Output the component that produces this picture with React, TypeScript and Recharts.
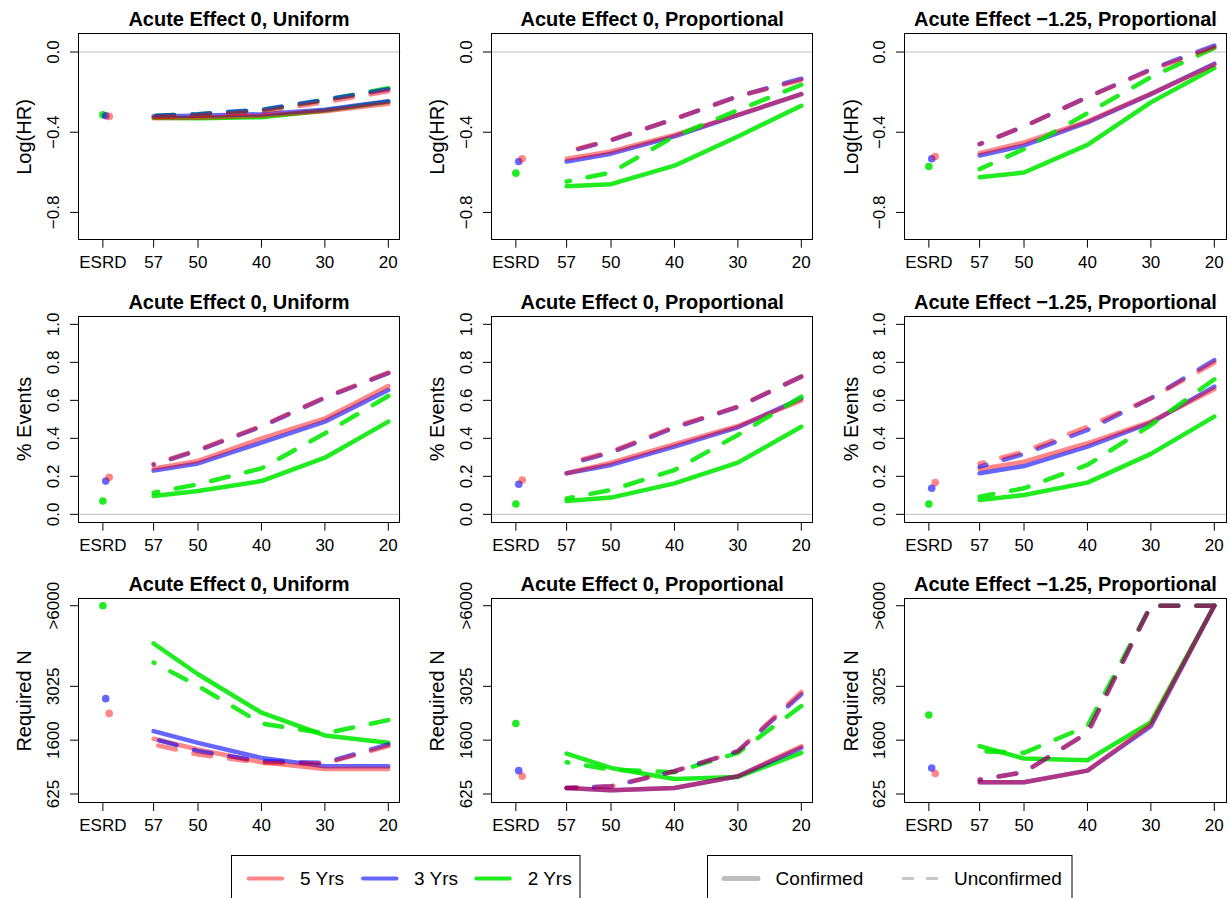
import React from 'react';
import { ComposedChart, Line, Scatter, XAxis, YAxis, ReferenceLine } from 'recharts';

const FONT = '"Liberation Sans", Arial, Helvetica, sans-serif';

// x axis: ages, ESRD sits left of 57 on a reversed age axis
const ages = [57, 50, 40, 30, 20];
const esrdAge = 65;
const xTicks = [65, 57, 50, 40, 30, 20];
const esrdJitter = [64.0, 64.55, 65.0]; // 5 Yrs, 3 Yrs, 2 Yrs dots

const groupNames = ['5 Yrs', '3 Yrs', '2 Yrs'];
const statusNames = ['Confirmed', 'Unconfirmed'];
const panelTitles = ['Acute Effect 0, Uniform', 'Acute Effect 0, Proportional', 'Acute Effect \u22121.25, Proportional'];
const rowLabels = ['Log(HR)', '% Events', 'Required N'];

const hrTicks = [-0.8, -0.4, 0];
const evTicks = [0, 0.2, 0.4, 0.6, 0.8, 1];
const nTicks = [625, 1600, 3025, 6000];

// rows of each array: 5 Yrs, 3 Yrs, 2 Yrs ; columns follow `ages`
// Log(HR)
const hrUniSolid = [
  [-0.33, -0.328, -0.318, -0.295, -0.258],
  [-0.32, -0.318, -0.31, -0.288, -0.245],
  [-0.328, -0.33, -0.325, -0.292, -0.248],
];
const hrUniDashed = [
  [-0.325, -0.318, -0.298, -0.25, -0.196],
  [-0.318, -0.31, -0.288, -0.238, -0.186],
  [-0.318, -0.31, -0.29, -0.24, -0.18],
];
const hrUniEsrd = [-0.321, -0.318, -0.313];

const hrPropSolid = [
  [-0.532, -0.496, -0.413, -0.313, -0.21],
  [-0.546, -0.507, -0.421, -0.315, -0.21],
  [-0.67, -0.659, -0.567, -0.421, -0.268],
];
const hrPropDashed = [
  [-0.496, -0.438, -0.334, -0.221, -0.14],
  [-0.5, -0.44, -0.334, -0.221, -0.133],
  [-0.646, -0.601, -0.421, -0.29, -0.163],
];
const hrPropEsrd = [-0.532, -0.546, -0.604];

const hrAcuteSolid = [
  [-0.504, -0.451, -0.346, -0.208, -0.063],
  [-0.516, -0.466, -0.351, -0.21, -0.058],
  [-0.624, -0.601, -0.463, -0.251, -0.08],
];
const hrAcuteDashed = [
  [-0.458, -0.371, -0.225, -0.09, 0.025],
  [-0.46, -0.371, -0.225, -0.086, 0.032],
  [-0.584, -0.484, -0.305, -0.125, 0.02],
];
const hrAcuteEsrd = [-0.521, -0.532, -0.571];

// % Events
const evUniSolid = [
  [0.242, 0.281, 0.4, 0.505, 0.675],
  [0.23, 0.268, 0.377, 0.488, 0.654],
  [0.096, 0.123, 0.175, 0.298, 0.488],
];
const evUniDashed = [
  [0.265, 0.339, 0.465, 0.616, 0.746],
  [0.262, 0.336, 0.462, 0.613, 0.743],
  [0.114, 0.158, 0.242, 0.426, 0.623],
];
const evUniEsrd = [0.195, 0.175, 0.07];

const evPropSolid = [
  [0.216, 0.272, 0.37, 0.465, 0.598],
  [0.216, 0.26, 0.356, 0.458, 0.61],
  [0.07, 0.088, 0.163, 0.272, 0.461],
];
const evPropDashed = [
  [0.268, 0.33, 0.461, 0.567, 0.725],
  [0.262, 0.325, 0.456, 0.565, 0.725],
  [0.084, 0.128, 0.233, 0.418, 0.619],
];
const evPropEsrd = [0.181, 0.158, 0.054];

const evAcuteSolid = [
  [0.239, 0.277, 0.374, 0.488, 0.658],
  [0.216, 0.254, 0.356, 0.482, 0.672],
  [0.075, 0.102, 0.167, 0.318, 0.514],
];
const evAcuteDashed = [
  [0.268, 0.33, 0.461, 0.611, 0.798],
  [0.251, 0.318, 0.444, 0.611, 0.812],
  [0.093, 0.137, 0.26, 0.47, 0.711],
];
const evAcuteEsrd = [0.167, 0.137, 0.054];

// Required N (values above 6000 shown as >6000)
const nUniSolid = [
  [1631, 1399, 1146, 1023, 1023],
  [1808, 1541, 1230, 1072, 1072],
  [4481, 3406, 2270, 1706, 1541],
];
const nUniDashed = [
  [1505, 1296, 1134, 1121, 1469],
  [1631, 1364, 1165, 1134, 1505],
  [3798, 3036, 1995, 1753, 2079],
];
const nUniEsrd = [2252, 2659, 6000];

const nPropSolid = [
  [712, 677, 712, 896, 1469],
  [712, 677, 712, 896, 1434],
  [1316, 1041, 852, 885, 1330],
];
const nPropDashed = [
  [712, 737, 982, 1364, 2855],
  [712, 737, 982, 1364, 2785],
  [1146, 1011, 965, 1330, 2451],
];
const nPropEsrd = [896, 993, 1995];

const nAcuteSolid = [
  [799, 799, 993, 1970, 6000],
  [799, 799, 993, 1929, 6000],
  [1469, 1217, 1184, 2029, 6000],
];
const nAcuteDashed = [
  [841, 965, 1768, 6000, 6000],
  [841, 965, 1768, 6000, 6000],
  [1364, 1330, 1929, 6000, 6000],
];
const nAcuteEsrd = [942, 1041, 2209];

const COLORS = ['rgba(255,0,0,0.47)', 'rgba(0,0,255,0.6)', 'rgba(0,232,0,0.87)'];

// layout of the plot boxes
const BOX_W = 322.5;
const COL_LEFT = [77.7, 490.9, 904.2];
const ROW_TOP = [33.3, 316, 598.3];
const ROW_H = [206.7, 206.7, 205];
const X_DOMAIN = [18.08, 68.92];

const fmtHr = (v: number) => (v === 0 ? '0.0' : (v < 0 ? '\u2212' : '') + Math.abs(v).toFixed(1));
const fmtEv = (v: number) => v.toFixed(1);
const fmtN = (v: number) => (v >= 6000 ? '>6000' : String(v));

const rowAxis = [
  { domain: [-0.936, 0.095], ticks: hrTicks, fmt: fmtHr, scale: 'linear', zero: true },
  { domain: [-0.044, 1.044], ticks: evTicks, fmt: fmtEv, scale: 'linear', zero: true },
  { domain: [506, 6338], ticks: nTicks, fmt: fmtN, scale: 'sqrt', zero: false },
];

const panels = [
  { row: 0, col: 0, solid: hrUniSolid, dashed: hrUniDashed, esrd: hrUniEsrd },
  { row: 0, col: 1, solid: hrPropSolid, dashed: hrPropDashed, esrd: hrPropEsrd },
  { row: 0, col: 2, solid: hrAcuteSolid, dashed: hrAcuteDashed, esrd: hrAcuteEsrd },
  { row: 1, col: 0, solid: evUniSolid, dashed: evUniDashed, esrd: evUniEsrd },
  { row: 1, col: 1, solid: evPropSolid, dashed: evPropDashed, esrd: evPropEsrd },
  { row: 1, col: 2, solid: evAcuteSolid, dashed: evAcuteDashed, esrd: evAcuteEsrd },
  { row: 2, col: 0, solid: nUniSolid, dashed: nUniDashed, esrd: nUniEsrd },
  { row: 2, col: 1, solid: nPropSolid, dashed: nPropDashed, esrd: nPropEsrd },
  { row: 2, col: 2, solid: nAcuteSolid, dashed: nAcuteDashed, esrd: nAcuteEsrd },
];

// R draws the lines from age 20 back to 57
const toPoints = (vals: number[]) => ages.map((a, i) => ({ x: a, y: vals[i] })).reverse();

function YTick(props: any) {
  const { x, y, payload, fmt } = props;
  return (
    <text
      transform={`translate(${x - 17},${y}) rotate(-90)`}
      textAnchor="middle"
      dy="0.35em"
      fontSize={17}
      fontFamily={FONT}
      fill="#000"
    >
      {fmt(payload.value)}
    </text>
  );
}

function Panel({ row, col, solid, dashed, esrd }: any) {
  const axis = rowAxis[row];
  const boxH = ROW_H[row];
  const W = 78 + BOX_W + 10.5;
  const H = 33 + boxH + 45;
  const order = [2, 1, 0]; // green, blue, red on top
  return (
    <div style={{ position: 'absolute', left: COL_LEFT[col] - 78, top: ROW_TOP[row] - 33, width: W, height: H }}>
      <div
        style={{
          position: 'absolute', left: 78, width: BOX_W, top: 8.6, textAlign: 'center',
          fontWeight: 'bold', fontSize: 20, lineHeight: '20px', whiteSpace: 'nowrap',
        }}
      >
        {panelTitles[col]}
      </div>
      <div
        style={{
          position: 'absolute', left: 24.5, top: 33 + boxH / 2, fontSize: 20, lineHeight: '20px',
          whiteSpace: 'nowrap', transform: 'translate(-50%, -50%) rotate(-90deg)',
        }}
      >
        {rowLabels[row]}
      </div>
      <ComposedChart width={W} height={H} margin={{ top: 33, right: 10.5, bottom: 0, left: 0 }}>
        <XAxis
          type="number"
          dataKey="x"
          domain={X_DOMAIN}
          reversed
          allowDataOverflow
          ticks={xTicks}
          interval={0}
          tickFormatter={(v: number) => (v === esrdAge ? 'ESRD' : String(v))}
          height={45}
          axisLine={false}
          tickLine={{ stroke: '#000' }}
          tickSize={8}
          tickMargin={8}
          tick={{ fill: '#000', fontSize: 17, fontFamily: FONT }}
        />
        <YAxis
          type="number"
          dataKey="y"
          domain={axis.domain}
          scale={axis.scale as any}
          allowDataOverflow
          ticks={axis.ticks}
          interval={0}
          width={78}
          axisLine={false}
          tickLine={{ stroke: '#000' }}
          tickSize={8}
          tickMargin={0}
          tick={(p: any) => <YTick {...p} fmt={axis.fmt} />}
        />
        {axis.zero && <ReferenceLine y={0} stroke="#bebebe" strokeWidth={1} />}
        {order.map((g) => (
          <Scatter
            key={`dot-${g}`}
            data={[{ x: esrdJitter[g], y: esrd[g] }]}
            isAnimationActive={false}
            shape={(p: any) => <circle cx={p.cx} cy={p.cy} r={3.8} fill={COLORS[g]} />}
          />
        ))}
        {order.map((g) => (
          <Line
            key={`solid-${g}`}
            data={toPoints(solid[g])}
            dataKey="y"
            type="linear"
            stroke={COLORS[g]}
            strokeWidth={4.5}
            strokeLinecap="round"
            strokeLinejoin="round"
            dot={false}
            activeDot={false}
            isAnimationActive={false}
          />
        ))}
        {order.map((g) => (
          <Line
            key={`dashed-${g}`}
            data={toPoints(dashed[g])}
            dataKey="y"
            type="linear"
            stroke={COLORS[g]}
            strokeWidth={4.5}
            strokeDasharray="18 18"
            strokeLinecap="round"
            strokeLinejoin="round"
            dot={false}
            activeDot={false}
            isAnimationActive={false}
          />
        ))}
      </ComposedChart>
      <div
        style={{
          position: 'absolute', left: 78, top: 33, width: BOX_W, height: boxH,
          border: '1px solid #000', boxSizing: 'border-box', pointerEvents: 'none',
        }}
      />
    </div>
  );
}

function Legends() {
  const groupX = [246.7, 361, 474.3];
  const groupTextX = [300, 414, 527.7];
  const ly = 878.5;
  return (
    <svg width={1231} height={898} style={{ position: 'absolute', left: 0, top: 0 }} fontFamily={FONT}>
      <rect x={231.5} y={855.5} width={348.5} height={60} fill="none" stroke="#000" />
      {groupNames.map((name, i) => (
        <g key={name}>
          <line x1={groupX[i] + 2} x2={groupX[i] + 35.5} y1={ly} y2={ly} stroke={COLORS[i]} strokeWidth={4} strokeLinecap="round" />
          <text x={groupTextX[i]} y={885} fontSize={19} fill="#000">{name}</text>
        </g>
      ))}
      <rect x={707.5} y={855.5} width={364.5} height={60} fill="none" stroke="#000" />
      <line x1={724} x2={758} y1={ly} y2={ly} stroke="#bebebe" strokeWidth={5} strokeLinecap="round" />
      <text x={775.6} y={885} fontSize={19} fill="#000">{statusNames[0]}</text>
      <line x1={902} x2={938} y1={ly} y2={ly} stroke="#c8c8c8" strokeWidth={3} strokeDasharray="12 12" />
      <text x={954} y={885} fontSize={19} fill="#000">{statusNames[1]}</text>
    </svg>
  );
}

export default function App() {
  return (
    <div
      style={{
        position: 'absolute', left: 0, top: 0, width: 1231, height: 898, overflow: 'hidden',
        background: '#fff', fontFamily: FONT, color: '#000',
      }}
    >
      {panels.map((p) => (
        <Panel key={`${p.row}-${p.col}`} {...p} />
      ))}
      <Legends />
    </div>
  );
}
